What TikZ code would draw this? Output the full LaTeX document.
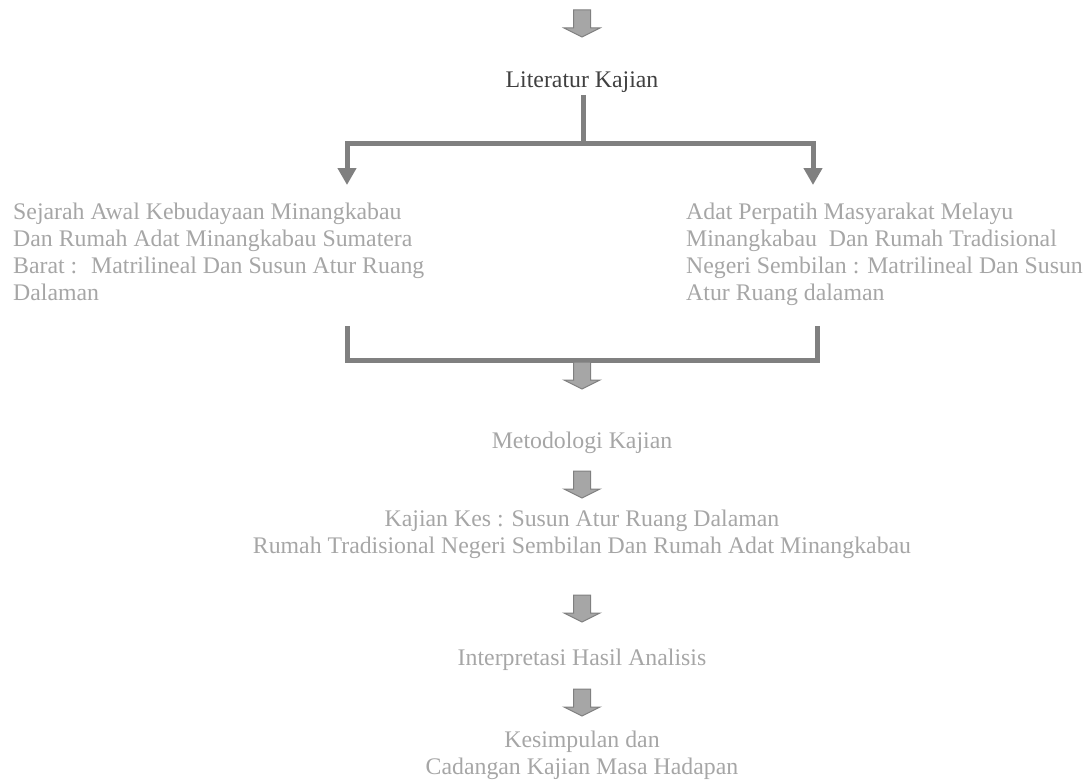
\documentclass[tikz,border=0pt]{standalone}
\usepackage{fontspec}
\setmainfont{Liberation Serif}
\usetikzlibrary{arrows.meta}
\definecolor{txtgray}{HTML}{A6A6A6}
\definecolor{lngray}{HTML}{808080}
\definecolor{dark}{HTML}{404040}

\begin{document}
\begin{tikzpicture}[
		x=1pt, y=-1pt,
		n/.style={inner sep=0pt, text=txtgray, font=\fontsize{23.8}{27}\selectfont},
		a/.style={draw=lngray, line width=5pt, line join=miter},
		tip/.style={-{Triangle[width=18pt,length=17pt]}},
		blk/.pic={\filldraw[fill=txtgray, draw=lngray, line width=1pt]
			(-8.5,0) -- (8.5,0) -- (8.5,18) -- (18,18) -- (0,27) -- (-18,18) -- (-8.5,18) -- cycle;},
	]
		\useasboundingbox (0,0) rectangle (1089,781);

		% multi-line nodes sit on their last baseline
		\node[n, text=dark, anchor=base] (lit) at (582,88) {Literatur Kajian};
		\node[n, anchor=base west, align=left] (sej) at (13,300) {Sejarah Awal Kebudayaan Minangkabau\\Dan Rumah Adat Minangkabau Sumatera\\Barat : \ Matrilineal Dan Susun Atur Ruang\\Dalaman};
		\node[n, anchor=base west, align=left] (adat) at (686,300) {Adat Perpatih Masyarakat Melayu\\Minangkabau \ Dan Rumah Tradisional\\Negeri Sembilan : Matrilineal Dan Susun\\Atur Ruang dalaman};
		\node[n, anchor=base] (met) at (582,448) {Metodologi Kajian};
		\node[n, anchor=base, align=center] (kes) at (582,553) {Kajian Kes : Susun Atur Ruang Dalaman\\Rumah Tradisional Negeri Sembilan Dan Rumah Adat Minangkabau};
		\node[n, anchor=base] (int) at (582,665) {Interpretasi Hasil Analisis};
		\node[n, anchor=base, align=center] (kesim) at (582,774) {Kesimpulan dan\\Cadangan Kajian Masa Hadapan};

		\coordinate (top) at (583,95);
		\coordinate (split) at (583,143);
		\coordinate (tipL) at (347,185);
		\coordinate (tipR) at (813,185);
		\coordinate (brL) at (347,326);
		\coordinate (brR) at (817,326);

		\draw[a] (top) -- (split);
		\draw[a, tip] (split) -| (tipL);
		\draw[a, tip] (split) -| (tipR);
		\draw[a] (brL) |- (brR |- 0,360) -- (brR);

		% block arrows
		\pic at (582,10) {blk};
		\pic at (582,362) {blk};
		\pic at (582,471) {blk};
		\pic at (582,595) {blk};
		\pic at (582,689) {blk};
	\end{tikzpicture}
\end{document}
